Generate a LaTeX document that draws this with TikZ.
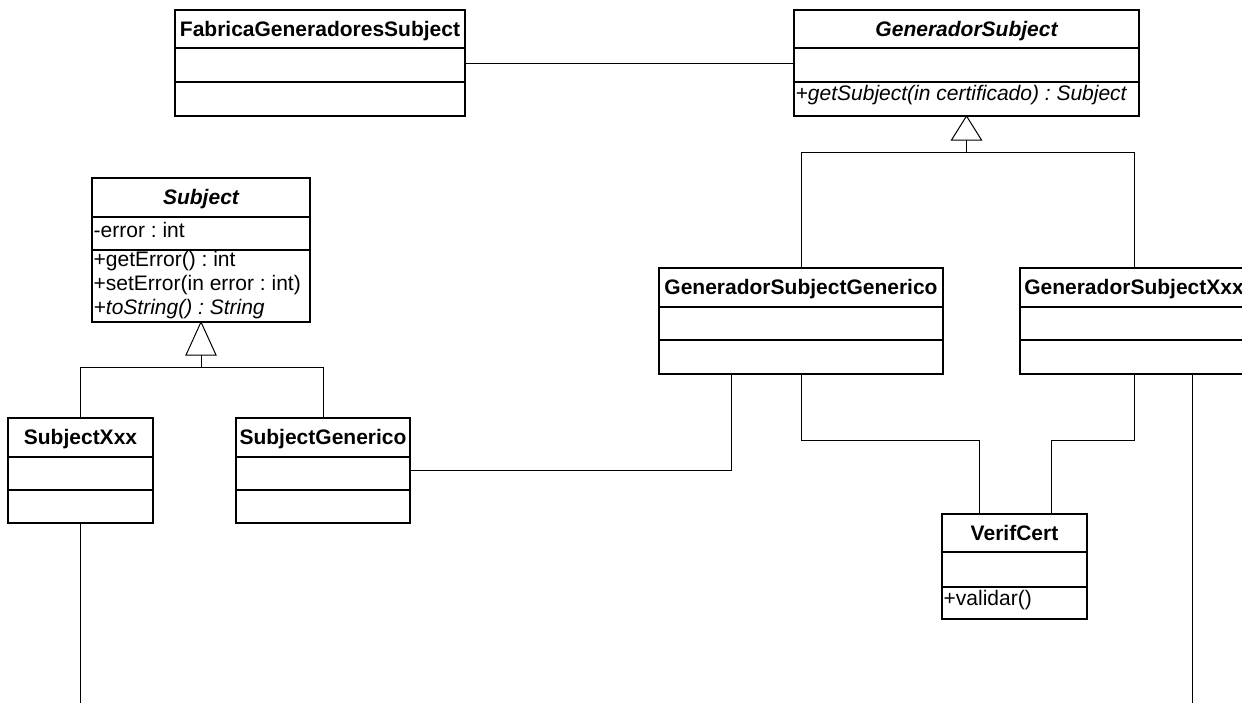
\documentclass[tikz,border=0pt]{standalone}
\usepackage{fontspec}
\setmainfont{Liberation Sans}
\usetikzlibrary{calc}
\frenchspacing
\tikzset{
  clsbox/.style={draw, line width=1.3pt, inner sep=0pt, outer sep=0pt, fill=white},
  ttl/.style={font=\fontsize{21}{24}\selectfont\bfseries\frenchspacing, inner sep=0pt, anchor=base},
  mem/.style={font=\fontsize{21}{24}\selectfont\frenchspacing, inner sep=0pt, anchor=base west},
  memit/.style={font=\fontsize{21}{24}\selectfont\itshape\frenchspacing, inner sep=0pt, anchor=base west},
  link/.style={line width=1pt},
  gen/.style={line width=1pt, fill=white}
}
\newcommand\umlcls[8]{%
  \node[clsbox, minimum width=#4, minimum height=#5+#6+#7, anchor=north west] (#1) at (#2,#3) {};
  \coordinate (#1-d1) at ($(#1.north west)+(0,#5)$);
  \coordinate (#1-d2) at ($(#1.north west)+(0,#5+#6)$);
  \draw[line width=1.3pt] (#1-d1) -- ++(#4,0) (#1-d2) -- ++(#4,0);
  \node[ttl] (#1-t) at ($(#1.north)+(0,26)$) {#8};
}
\begin{document}
\begin{tikzpicture}[x=1pt,y=-1pt]
\useasboundingbox (0,0) rectangle (1242,702);
\clip (0,0) rectangle (1242,702);
\fill[white] (0,0) rectangle (1242,702);

\umlcls{fab}{175}{10}{290}{38}{34}{34}{FabricaGeneradoresSubject}
\umlcls{gs}{794}{10}{345}{38}{34}{34}{\itshape GeneradorSubject}
\umlcls{subj}{92}{178}{218}{39}{33}{72}{\itshape Subject}
\umlcls{sx}{8}{418}{145}{39}{33}{33}{SubjectXxx}
\umlcls{sg}{236}{418}{174}{39}{33}{33}{SubjectGenerico}
\umlcls{gsg}{659}{268}{284}{39}{33}{34}{GeneradorSubjectGenerico}
\umlcls{gsx}{1020}{268}{228}{39}{33}{34}{GeneradorSubjectXxx}
\umlcls{vc}{942}{514}{145}{38}{35}{32}{VerifCert}

% members
\node[memit] (gs-op1) at ($(gs-d2)+(1.5,18)$) {+getSubject(in certificado) : Subject};
\node[mem] (subj-a1) at ($(subj-d1)+(1.5,20)$) {-error : int};
\node[mem] (subj-op1) at ($(subj-d2)+(1.5,16)$) {+getError() : int};
\node[mem] (subj-op2) at ($(subj-d2)+(1.5,40)$) {+setError(in error : int)};
\node[memit] (subj-op3) at ($(subj-d2)+(1.5,64)$) {+toString() : String};
\node[mem] (vc-op1) at ($(vc-d2)+(1.5,18)$) {+validar()};

% association
\draw[link] (fab.east) -- (gs.west);

% generalization to GeneradorSubject
\draw[gen] (gs.south) -- ++(-15,24) -- ++(30,0) -- cycle;
\coordinate (gsfork) at ($(gs.south)+(0,36)$);
\draw[link] ($(gs.south)+(0,24)$) -- (gsfork);
\draw[link] (gsg.north) -- (gsg.north |- gsfork) -- (gsx.north |- gsfork) -- (gsx.north);

% generalization to Subject
\draw[gen] (subj.south) -- ++(-15,33) -- ++(30,0) -- cycle;
\coordinate (subjfork) at ($(subj.south)+(0,45)$);
\draw[link] ($(subj.south)+(0,33)$) -- (subjfork);
\draw[link] (sx.north) -- (sx.north |- subjfork) -- (sg.north |- subjfork) -- (sg.north);

% SubjectGenerico -- GeneradorSubjectGenerico
\coordinate (gsgA) at ($(gsg.south west)+(72,0)$);
\draw[link] (sg.east) -| (gsgA);

% to VerifCert
\coordinate (vcA) at ($(vc.north west)+(37,0)$);
\coordinate (vcB) at ($(vc.north west)+(109,0)$);
\draw[link] (gsg.south) -- ++(0,66) -| (vcA);
\draw[link] (gsx.south) -- ++(0,66) -| (vcB);

% open ends leaving the picture
\coordinate (sxEnd) at ($(sx.south)+(0,190)$);
\draw[link] (sx.south) -- (sxEnd);
\coordinate (gsxB) at ($(gsx.south west)+(172,0)$);
\coordinate (gsxEnd) at ($(gsxB)+(0,340)$);
\draw[link] (gsxB) -- (gsxEnd);
\end{tikzpicture}
\end{document}
